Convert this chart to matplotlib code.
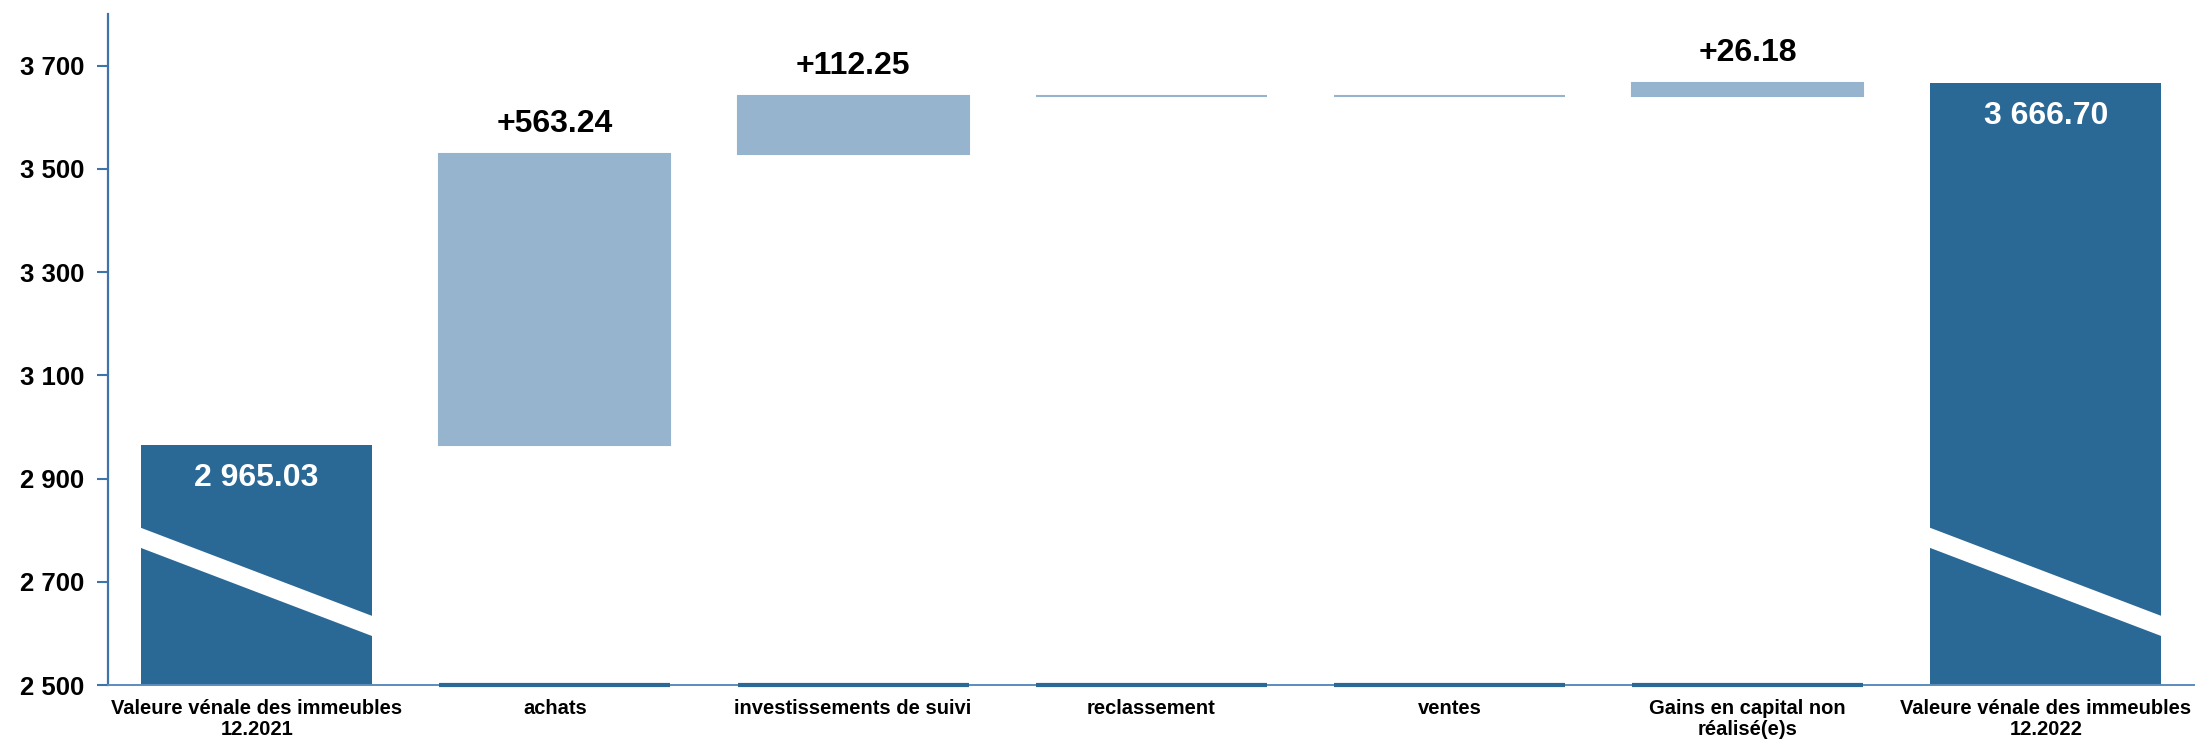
import numpy as np
import matplotlib
matplotlib.use('Agg')
import matplotlib.pyplot as plt
from matplotlib.patches import Polygon
from matplotlib.ticker import FuncFormatter

plt.rcParams['font.family'] = ['Liberation Sans', 'DejaVu Sans']
plt.rcParams['font.weight'] = 'bold'

# waterfall data
categories = ['Valeure vénale des immeubles\n12.2021', 'achats', 'investissements de suivi',
              'reclassement', 'ventes', 'Gains en capital non\nréalisé(e)s',
              'Valeure vénale des immeubles\n12.2022']
start_value = 2965.03
changes = [563.24, 112.25, 0.0, 0.0, 26.18]
end_value = 3666.70
change_labels = ['+563.24', '+112.25', '', '', '+26.18']
total_labels = ['2 965.03', '3 666.70']

dark = '#2a6896'
light = '#96b4cd'
spine_col = '#3f74ab'
y_min, y_max = 2500, 3800

fig = plt.figure(figsize=(21.95, 7.40), dpi=100)
ax = fig.add_axes([0.049, 0.074, 0.951, 0.907])

x = np.arange(len(categories))
w = 0.775

# change bars sit on top of the running total
bases = start_value + np.concatenate([[0], np.cumsum(changes)[:-1]])
ax.bar(x[1:-1], changes, bottom=bases, width=w, color=light, edgecolor=light, linewidth=1.5)
for xi, b, c, lab in zip(x[1:-1], bases, changes, change_labels):
    if lab:
        ax.annotate(lab, (xi, b + c), xytext=(0, 11), textcoords='offset points',
                    ha='center', va='bottom', fontsize=23, fontweight='bold', color='black')
    # base line drawn under each floating bar
    ax.plot([xi - w / 2, xi + w / 2], [y_min, y_min], color=dark, lw=3, clip_on=False,
            solid_capstyle='butt', zorder=3)

# totals
totals = [start_value, end_value]
tx = [x[0], x[-1]]
ax.bar(tx, totals, width=w, color=dark)
for xi, t, lab in zip(tx, totals, total_labels):
    ax.annotate(lab, (xi, t), xytext=(0, -24), textcoords='offset points',
                ha='center', va='center', fontsize=23, fontweight='bold', color='white')
    # white band showing the axis break
    band = Polygon([(xi - w / 2 - 0.01, 2807), (xi + w / 2 + 0.01, 2632),
                    (xi + w / 2 + 0.01, 2593), (xi - w / 2 - 0.01, 2768)],
                   closed=True, facecolor='white', edgecolor='none', zorder=4)
    ax.add_patch(band)

ax.set_xlim(-0.5, len(categories) - 0.5)
ax.set_ylim(y_min, y_max)
ax.set_yticks(np.arange(2500, 3701, 200))
ax.yaxis.set_major_formatter(FuncFormatter(lambda v, p: f'{int(v):,}'.replace(',', ' ')))
ax.set_xticks(x)
ax.set_xticklabels(categories, fontsize=14.5, fontweight='bold', linespacing=1.1)

for s in ['top', 'right']:
    ax.spines[s].set_visible(False)
ax.spines['left'].set_color(spine_col)
ax.spines['bottom'].set_color('#5b8cbd')
ax.spines['left'].set_linewidth(1.6)
ax.spines['bottom'].set_linewidth(1.4)
ax.tick_params(axis='y', colors=spine_col, length=8, width=1.5, labelsize=18.5,
               labelcolor='black', pad=9)
ax.tick_params(axis='x', length=0, pad=10)
for t in ax.get_yticklabels():
    t.set_fontweight('bold')

fig.savefig('out.png', dpi=100)
